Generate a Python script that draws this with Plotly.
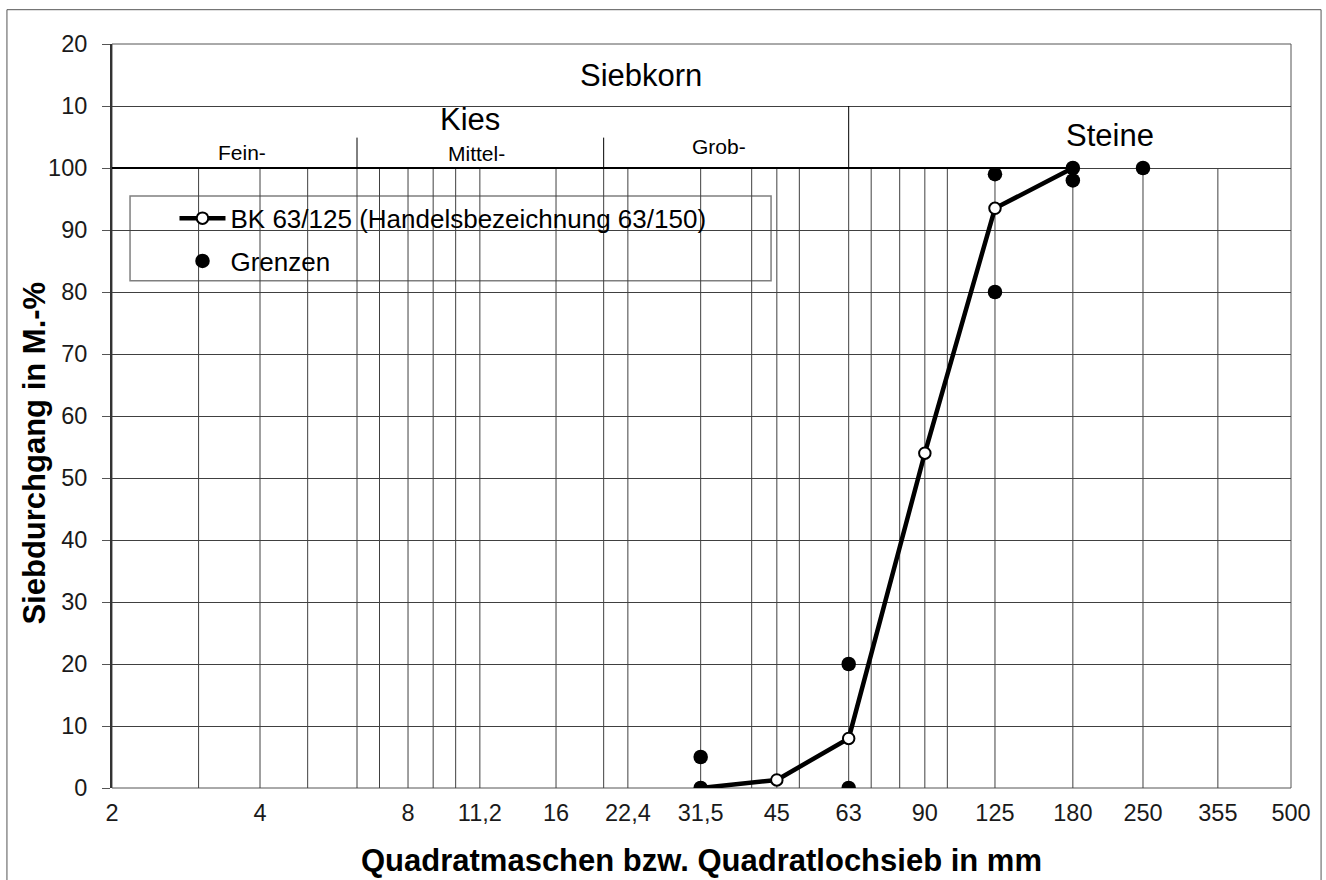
import plotly.graph_objects as go

# ---------------- data ----------------
sieve_ticks = [2, 4, 8, 11.2, 16, 22.4, 31.5, 45, 63, 90, 125, 180, 250, 355, 500]
sieve_labels = ["2", "4", "8", "11,2", "16", "22,4", "31,5", "45", "63", "90",
                "125", "180", "250", "355", "500"]
grid_sizes = [3, 4, 5, 6.3, 7, 8, 9, 10, 11.2, 16, 20, 22.4, 31.5, 40, 45, 50,
              63, 70, 80, 90, 100, 125, 180, 250, 355]

bk_name = "BK 63/125 (Handelsbezeichnung 63/150)"
bk_x = [31.5, 45, 63, 90, 125, 180]
bk_y = [0, 1.3, 8, 54, 93.5, 100]

grenz_name = "Grenzen"
grenz_x = [31.5, 31.5, 63, 63, 125, 125, 180, 180, 250]
grenz_y = [0, 5, 0, 20, 80, 99, 98, 100, 100]

y_tickvals = list(range(0, 121, 10))
y_ticktext = ["0", "10", "20", "30", "40", "50", "60", "70", "80", "90", "100", "10", "20"]

# header rows (text, x in paper, y in data units, font size)
header_labels = [
    ("Siebkorn", 0.4487, 115.0, 31),
    ("Kies", 0.3037, 107.8, 31),
    ("Steine", 0.8465, 105.2, 31),
    ("Fein-", 0.1103, 102.5, 21),
    ("Mittel-", 0.3092, 102.3, 21),
    ("Grob-", 0.5148, 103.5, 21),
]
fraction_bounds = [6.3, 20]   # Fein/Mittel, Mittel/Grob
kies_steine_bound = 63

FONT = "Liberation Sans, Arial, sans-serif"
GRID = "#404040"

fig = go.Figure()

fig.add_trace(go.Scatter(
    x=bk_x, y=bk_y, mode="lines+markers", name=bk_name, legendgroup="a",
    line=dict(color="black", width=4.5),
    marker=dict(symbol="circle", size=11.5, color="white",
                line=dict(color="black", width=2)),
))
fig.add_trace(go.Scatter(
    x=grenz_x, y=grenz_y, mode="markers", name=grenz_name, legendgroup="b",
    marker=dict(symbol="circle", size=14.5, color="black"),
))

shapes = []
# vertical sieve grid lines (only inside the 0..100 field)
for s in grid_sizes:
    shapes.append(dict(type="line", xref="x", yref="y", x0=s, x1=s, y0=0, y1=100,
                       line=dict(color=GRID, width=1), layer="between"))
# header separators
for s in fraction_bounds:
    shapes.append(dict(type="line", xref="x", yref="y", x0=s, x1=s, y0=100, y1=104.9,
                       line=dict(color="black", width=1), layer="between"))
shapes.append(dict(type="line", xref="x", yref="y", x0=kies_steine_bound, x1=kies_steine_bound,
                   y0=100, y1=110, line=dict(color="black", width=1), layer="between"))
shapes.append(dict(type="line", xref="x", yref="y", x0=2, x1=180, y0=100, y1=100,
                   line=dict(color="black", width=2), layer="between"))
# plot frame (top / right / bottom)
shapes.append(dict(type="rect", xref="paper", yref="paper", x0=0, x1=1, y0=0, y1=1,
                   line=dict(color="#555555", width=1), layer="between"))
# legend box
shapes.append(dict(type="rect", xref="paper", yref="y", x0=0.0153, x1=0.559, y0=81.8, y1=95.5,
                   line=dict(color="#7f7f7f", width=1.5), fillcolor="white", layer="between"))
# outer border of the figure
shapes.append(dict(type="rect", xref="paper", yref="paper", x0=-0.0891, x1=1.0255, y0=-0.14, y1=1.0461,
                   line=dict(color="#555555", width=1), layer="above"))

annotations = []
for text, xp, yd, size in header_labels:
    annotations.append(dict(text=text, xref="paper", yref="y", x=xp, y=yd,
                            xanchor="center", yanchor="middle", showarrow=False,
                            font=dict(family=FONT, size=size, color="black")))
# y axis title
annotations.append(dict(text="Siebdurchgang in M.-%", xref="paper", yref="paper",
                        x=-0.0653, y=0.4495, xanchor="center", yanchor="middle",
                        textangle=-90, showarrow=False,
                        font=dict(family=FONT, size=31, color="black", weight="bold")))

fig.update_layout(
    width=1326, height=880,
    margin=dict(l=112, r=35, t=44, b=92, pad=0, autoexpand=False),
    paper_bgcolor="white", plot_bgcolor="white",
    font=dict(family=FONT, color="black"),
    shapes=shapes, annotations=annotations,
    showlegend=True,
    legend=dict(x=0.053, y=0.7974, xref="paper", yref="paper", xanchor="left", yanchor="top",
                bgcolor="rgba(0,0,0,0)", borderwidth=0,
                font=dict(family=FONT, size=26, color="black"),
                itemwidth=46, tracegroupgap=6),
    xaxis=dict(type="log", range=[0.30103, 2.69897], tickvals=sieve_ticks, ticktext=sieve_labels,
               showgrid=False, zeroline=False, showline=False, ticks="", automargin=False,
               tickfont=dict(family=FONT, size=23.5, color="#1a1a1a"), ticklabelstandoff=8,
               title=dict(text="Quadratmaschen bzw. Quadratlochsieb in mm", standoff=24,
                          font=dict(family=FONT, size=31, color="black", weight="bold"))),
    yaxis=dict(range=[0, 120], tickvals=y_tickvals, ticktext=y_ticktext, automargin=False,
               showgrid=True, gridcolor=GRID, gridwidth=1, zeroline=False,
               showline=True, linecolor="#333333", linewidth=2,
               ticks="outside", ticklen=8, tickcolor="#555555", tickwidth=1,
               tickfont=dict(family=FONT, size=23.5, color="#1a1a1a"), ticklabelstandoff=10),
)

fig.write_html("out.html", config={"displayModeBar": False},
               post_script="document.body.style.margin='0';")
